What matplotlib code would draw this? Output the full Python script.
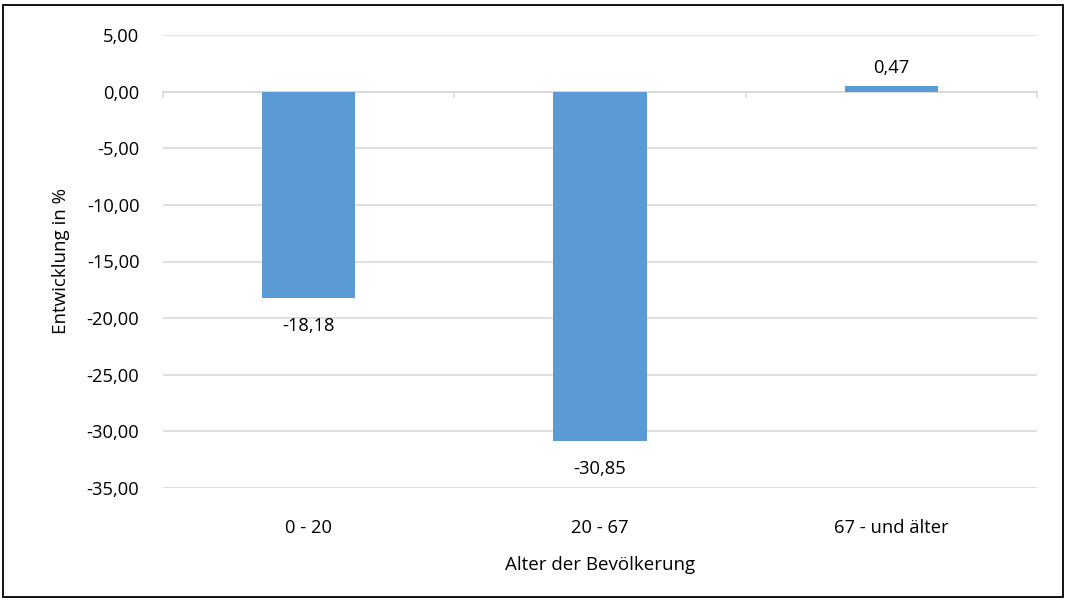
import matplotlib.pyplot as plt
from matplotlib.patches import Rectangle

categories = ['0 - 20', '20 - 67', '67 - und älter']
values = [-18.18, -30.85, 0.47]
yticks = [5, 0, -5, -10, -15, -20, -25, -30, -35]

plt.rcParams['font.family'] = ['Open Sans', 'DejaVu Sans']

W, H = 1067, 602
fig = plt.figure(figsize=(W / 100, H / 100), dpi=100)
ax = fig.add_axes([163 / W, 1 - 488 / H, (1037 - 163) / W, (488 - 35) / H])

bar_color = '#5b9bd5'
grid_color = '#d9d9d9'
fs = 13.2

x = list(range(len(categories)))
ax.bar(x, values, width=0.32, color=bar_color, zorder=3)

ax.set_xlim(-0.5, len(categories) - 0.5)
ax.set_ylim(-35, 5)
ax.set_yticks(yticks)
ax.set_yticklabels([f'{v:.2f}'.replace('.', ',') for v in yticks])
ax.yaxis.grid(True, color=grid_color, linewidth=1.2, zorder=0)
ax.tick_params(axis='y', length=0, pad=17, labelsize=fs, colors='black')

# category labels sit below the plot, not on the zero line
ax.set_xticks([])
for i, c in enumerate(categories):
    ax.text(i, -38.5, c, ha='center', va='center', fontsize=fs)

# zero axis with tick marks at category boundaries
ax.axhline(0, color=grid_color, linewidth=1.2, zorder=2)
for b in [-0.5, 0.5, 1.5, 2.5]:
    ax.plot([b, b], [0, -0.45], color=grid_color, linewidth=1.2, zorder=2, clip_on=False)

for s in ax.spines.values():
    s.set_visible(False)

# value labels
for i, v in enumerate(values):
    txt = f'{v:.2f}'.replace('.', ',')
    if v < 0:
        ax.text(i, v - 2.5, txt, ha='center', va='center', fontsize=fs)
    else:
        ax.text(i, v + 1.6, txt, ha='center', va='center', fontsize=fs)

ax.set_ylabel('Entwicklung in %', fontsize=13.5, labelpad=12)
fig.text(600 / W, 1 - 565 / H, 'Alter der Bevölkerung', ha='center', va='center', fontsize=13.5)

# outer frame
fig.patches.append(Rectangle((3 / W, 5 / H), 1060 / W, 592 / H, transform=fig.transFigure,
                             fill=False, edgecolor='black', linewidth=1.3))

fig.savefig('out.png', dpi=100)
